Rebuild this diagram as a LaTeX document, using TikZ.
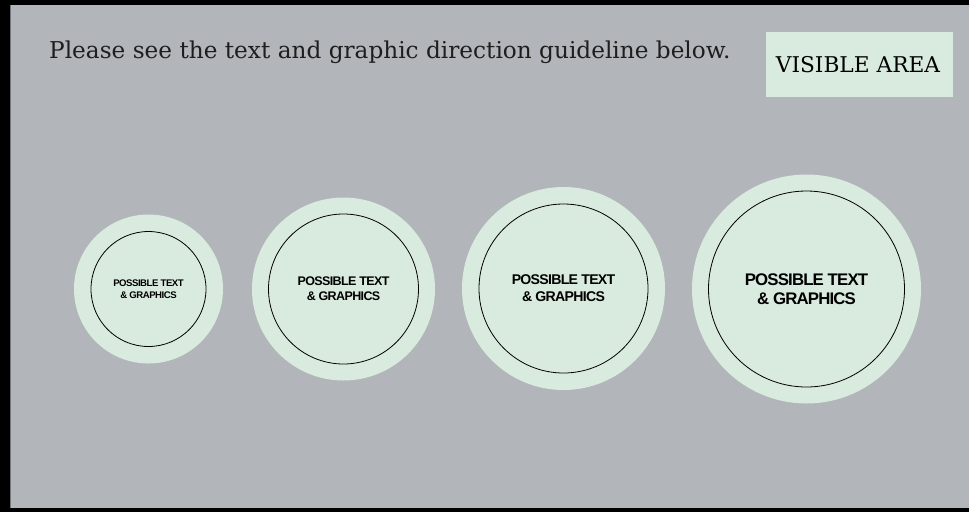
\documentclass[tikz,border=0pt]{standalone}
\usepackage{fontspec}
\newfontfamily\titlefont{DejaVu Serif}
\newfontfamily\labelfont[LetterSpace=-5]{Liberation Sans}
\definecolor{bggray}{HTML}{B2B5B9}
\definecolor{palegreen}{HTML}{D9EBDF}
\definecolor{edgegray}{HTML}{74777B}
\definecolor{inkdark}{HTML}{1E1E1E}
\tikzset{
  outerdisc/.style={circle, fill=palegreen, draw=none, inner sep=0pt, outer sep=0pt},
  innerring/.style={circle, draw=black, line width=0.8pt, inner sep=0pt, outer sep=0pt, align=center, text=black},
}
\begin{document}
\begin{tikzpicture}[x=1pt,y=-1pt]
\useasboundingbox (0,0) rectangle (969,512);
\fill[black] (0,0) rectangle (969,512);
\fill[bggray] (10,5) rectangle (969,508);
\draw[edgegray, line width=1pt] (10.5,5) -- (10.5,508);

\node[anchor=base west, inner sep=0pt, text=inkdark, font=\titlefont\fontsize{23.2}{26}\selectfont] (title) at (49,58) {Please see the text and graphic direction guideline below.};

\node[fill=palegreen, minimum width=187pt, minimum height=65pt, inner sep=0pt] (visible) at (859.5,64.5) {};
\node[text=black, font=\titlefont\fontsize{21.7}{24}\selectfont, inner sep=0pt] (visibletext) at (858,65) {VISIBLE AREA};

% circle 1
\node[outerdisc, minimum size=149pt] (o1) at (148.5,289) {};
\node[innerring, minimum size=115pt, font=\labelfont\bfseries\fontsize{9.6}{12}\selectfont] (i1) at (148.5,289) {POSSIBLE TEXT\\\& GRAPHICS};
% circle 2
\node[outerdisc, minimum size=183pt] (o2) at (343.5,289) {};
\node[innerring, minimum size=150pt, font=\labelfont\bfseries\fontsize{12.5}{15}\selectfont] (i2) at (343.5,289) {POSSIBLE TEXT\\\& GRAPHICS};
% circle 3
\node[outerdisc, minimum size=203pt] (o3) at (563.5,288.5) {};
\node[innerring, minimum size=169pt, font=\labelfont\bfseries\fontsize{14.1}{17}\selectfont] (i3) at (563.5,288.5) {POSSIBLE TEXT\\\& GRAPHICS};
% circle 4
\node[outerdisc, minimum size=229pt] (o4) at (806.5,289) {};
\node[innerring, minimum size=196pt, font=\labelfont\bfseries\fontsize{16.8}{19.5}\selectfont] (i4) at (806.5,289) {POSSIBLE TEXT\\\& GRAPHICS};
\end{tikzpicture}
\end{document}
